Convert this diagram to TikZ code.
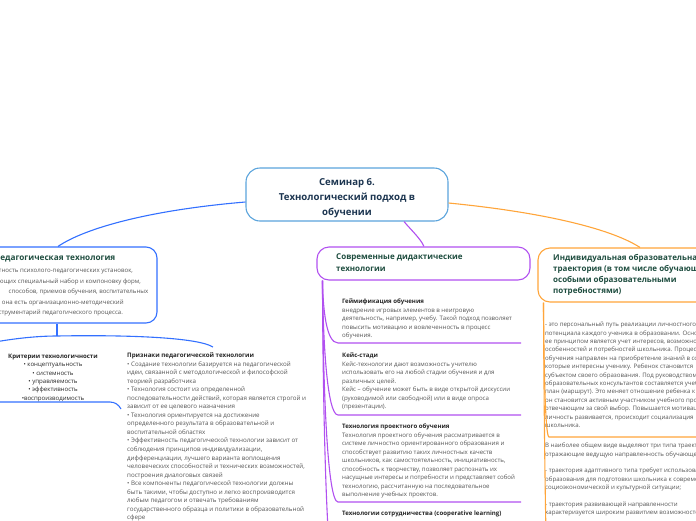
\documentclass[tikz,border=0pt]{standalone}
\usepackage{fontspec}
\setmainfont{Open Sans}
\definecolor{cblue}{HTML}{5BA4DC}
\definecolor{pblue}{HTML}{3370FF}
\definecolor{ppurple}{HTML}{B150F0}
\definecolor{porange}{HTML}{FFA53A}
\definecolor{ttlgreen}{HTML}{1E4D3F}
\definecolor{ctext}{HTML}{1C3550}
\definecolor{bodygray}{HTML}{555555}
\newcommand{\fsz}[2]{\fontsize{#1}{#2}\selectfont}
\begin{document}
\begin{tikzpicture}[x=1pt,y=-1pt,
  bx/.style={rounded corners=12pt, line width=1.1pt, fill=white, inner sep=0},
  bodytxt/.style={anchor=north west, inner sep=0, align=left, text=bodygray, font=\fsz{6.1}{8.5}},
  ttl/.style={anchor=north west, inner sep=0, align=left, text=ttlgreen, font=\fsz{8}{11.5}\bfseries},
  bl/.style={pblue, line width=1.1pt},
  pl/.style={ppurple, line width=1.1pt},
  ol/.style={porange, line width=1.1pt}]
\useasboundingbox (0,0) rectangle (696,520);
\clip (0,0) rectangle (696,520);

% central node
\node[bx, draw=cblue, rounded corners=14pt, minimum width=202pt, minimum height=53pt] (c) at (347,194.5) {};
\node[inner sep=0, align=center, text=ctext, font=\fsz{9.6}{14.8}\bfseries] (ct) at (347,196.6)
  {\strut Семинар 6.\\Технологический подход в\\обучении};

% main branch nodes
\node[bx, draw=pblue, rounded corners=11pt, minimum width=217pt, minimum height=76pt] (p) at (48.5,285) {};
\node[bx, draw=ppurple, minimum width=213pt, minimum height=33pt] (m) at (423.5,263.5) {};
\node[bx, draw=porange, minimum width=222pt, minimum height=54pt] (o) at (649,275) {};

% main connectors
\draw[bl] ([yshift=-7.5pt]c.west) .. controls (150,210) and (85,228) .. ([xshift=9.5pt]p.north);
\draw[ol] ([yshift=-8.5pt]c.east) .. controls (540,212) and (610,228) .. ([xshift=-9pt]o.north);
\draw[pl] ([xshift=57pt]c.south) .. controls (412,231) and (420,238) .. ([xshift=0.5pt]m.north);

% blue node texts
\node[ttl, font=\fsz{8.2}{10}\bfseries] (pt) at (-6,253) {\strut Педагогическая технология};
\node[bodytxt, font=\fsz{6.1}{10.5}] (pb) at (-1.5,265.2)
  {\strut тность психолого-педагогических установок,\\
   ющих специальный набор и компоновку форм,\\
   \hspace*{10pt}способов, приемов обучения, воспитательных\\
   ; она есть организационно-методический\\
   струментарий педагогического процесса.};

% middle title
\node[ttl, font=\fsz{8}{12}\bfseries] (mt) at (336,250.8) {\strut Современные дидактические\\технологии};
% orange title
\node[ttl, font=\fsz{8}{11}\bfseries] (ot) at (553,252.5)
  {\strut Индивидуальная образовательная\\траектория (в том числе обучающихся с\\особыми образовательными\\потребностями)};

% blue children
\node[bodytxt, anchor=north, align=center, text=black!85, font=\fsz{6.1}{8.4}] (k) at (53,352.3)
  {\strut\textbf{Критерии технологичности}\\• концептуальность\\• системность\\• управляемость\\• эффективность\\•воспроизводимость};
\node[bodytxt, font=\fsz{6.2}{8.53}] (q) at (127,351.5)
  {\strut\textbf{\color{black!85}Признаки педагогической технологии}\\
  • Создание технологии базируется на педагогической\\
  идеи, связанной с методологической и философской\\
  теорией разработчика\\
  • Технология состоит из определенной\\
  последовательности действий, которая является строгой и\\
  зависит от ее целевого назначения\\
  • Технология ориентируется на достижение\\
  определенного результата в образовательной и\\
  воспитательной областях\\
  • Эффективность педагогической технологии зависит от\\
  соблюдения принципов индивидуализации,\\
  дифференциации, лучшего варианта воплощения\\
  человеческих способностей и технических возможностей,\\
  построения диалоговых связей\\
  • Все компоненты педагогической технологии должны\\
  быть такими, чтобы доступно и легко воспроизводится\\
  любым педагогом и отвечать требованиям\\
  государственного образца и политики в образовательной\\
  сфере};

\coordinate (pj) at (57,336);
\coordinate (pleft) at (-5,342);
\coordinate (qtop) at (213,347);
\draw[bl] (p.south -| pj) -- (pj);
\draw[bl] (pj) .. controls (35,336) and (12,339) .. (pleft);
\draw[bl] (pj) .. controls (110,335) and (195,336) .. (qtop);
\coordinate (kl) at (-5,402);
\coordinate (kr) at (110,402);
\coordinate (kr2) at (121,409);
\draw[bl] (kl) -- (kr) .. controls (115,402) and (119,405) .. (kr2);

% middle children
\node[bodytxt] (m1) at (342,297.5)
  {\strut\textbf{\color{black!85}Геймификация обучения}\\
  внедрение игровых элементов в неигровую\\
  деятельность, например, учебу. Такой подход позволяет\\
  повысить мотивацию и вовлеченность в процесс\\
  обучения.};
\node[bodytxt] (m2) at (342,351.5)
  {\strut\textbf{\color{black!85}Кейс-стади}\\
  Кейс-технологии дают возможность учителю\\
  использовать его на любой стадии обучения и для\\
  различных целей.\\
  Кейс – обучение может быть в виде открытой дискуссии\\
  (руководимой или свободной) или в виде опроса\\
  (презентации).};
\node[bodytxt] (m3) at (342,422.5)
  {\strut\textbf{\color{black!85}Технология проектного обучения}\\
  Технология проектного обучения рассматривается в\\
  системе личностно ориентированного образования и\\
  способствует развитию таких личностных качеств\\
  школьников, как самостоятельность, инициативность,\\
  способность к творчеству, позволяет распознать их\\
  насущные интересы и потребности и представляет собой\\
  технологию, рассчитанную на последовательное\\
  выполнение учебных проектов.};
\node[bodytxt] (m4) at (342,509.5)
  {\strut\textbf{\color{black!85}Технологии сотрудничества (cooperative learning)}};

\coordinate (mj) at ([xshift=6pt]m.south west);
\coordinate (u1l) at (338,343); \coordinate (u1r) at (521,343);
\coordinate (u2l) at (338,415); \coordinate (u2r) at (521,415);
\coordinate (u3l) at (338,502); \coordinate (u3r) at (521,502);
\coordinate (u4l) at (338,600); \coordinate (u4r) at (521,600);
\draw[pl] (mj) .. controls (323,308) and (326,343) .. (u1l) -- (u1r);
\draw[pl] (mj) .. controls (323,340) and (327,415) .. (u2l) -- (u2r);
\draw[pl] (mj) .. controls (323,380) and (327,502) .. (u3l) -- (u3r);
\draw[pl] (mj) .. controls (323,420) and (327,600) .. (u4l) -- (u4r);

% orange children
\node[bodytxt, font=\fsz{6.1}{8.42}] (o1) at (545,320.5)
  {\strut - это персональный путь реализации личностного\\
  потенциала каждого ученика в образовании. Основным\\
  ее принципом является учет интересов, возможностей,\\
  особенностей и потребностей школьника. Процесс\\
  обучения направлен на приобретение знаний в сферах,\\
  которые интересны ученику. Ребенок становится\\
  субъектом своего образования. Под руководством\\
  образовательных консультантов составляется учебный\\
  план (маршрут). Это меняет отношение ребенка к учебе:\\
  он становится активным участником учебного процесса,\\
  отвечающим за свой выбор. Повышается мотивация,\\
  личность развивается, происходит социализация\\
  школьника.};
\node[bodytxt, font=\fsz{6.1}{8.42}] (o2) at (545,441.5)
  {\strut В наиболее общем виде выделяют три типа траекторий,\\
  отражающие ведущую направленность обучающегося:\\[8.42pt]
  - траектория адаптивного типа требует использования\\
  образования для подготовки школьника к современной\\
  социоэкономической и культурной ситуации;\\[8.42pt]
  - траектория развивающей направленности\\
  характеризуется широким развитием возможностей};

\coordinate (oj) at ([xshift=6pt]o.south west);
\coordinate (v1l) at (549,437); \coordinate (v1r) at (720,437);
\coordinate (v2l) at (549,600); \coordinate (v2r) at (720,600);
\draw[ol] (oj) .. controls (544,360) and (545,437) .. (v1l) -- (v1r);
\draw[ol] (oj) .. controls (544,420) and (546,600) .. (v2l) -- (v2r);
\end{tikzpicture}
\end{document}
